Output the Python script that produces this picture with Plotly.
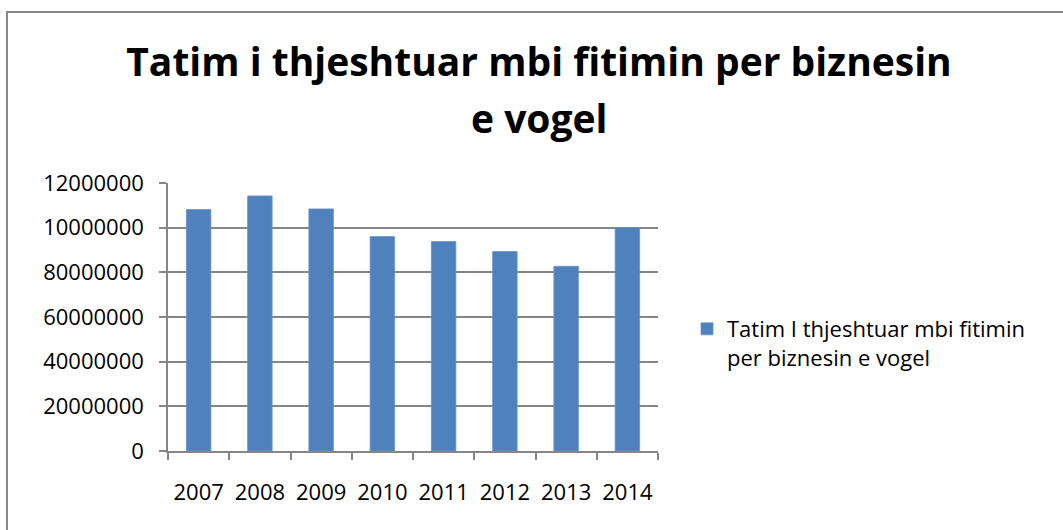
import plotly.graph_objects as go

# ---- data ----
years = ["2007", "2008", "2009", "2010", "2011", "2012", "2013", "2014"]
values = [108100000, 114200000, 108400000, 96000000, 93800000, 89300000, 82700000, 100000000]
y_tick_vals = [0, 20000000, 40000000, 60000000, 80000000, 100000000, 120000000]
y_tick_text = ["0", "20000000", "40000000", "60000000", "80000000", "10000000", "12000000"]
series_name = "Tatim I thjeshtuar mbi fitimin<br>per biznesin e vogel"
title_line1 = "Tatim i thjeshtuar mbi fitimin per biznesin"
title_line2 = "e vogel"

W, H = 1063, 530
ML, MR, MT, MB = 168, 405, 183, 79
PW, PH = W - ML - MR, H - MT - MB


def px_x(px):
    return (px - ML) / PW


def px_y(py):
    return (H - MB - py) / PH


FONT = "Open Sans"
GRID = "#868686"

fig = go.Figure()
fig.add_trace(go.Bar(
    x=years, y=values, name=series_name,
    marker=dict(color="#4F81BD", line=dict(color="#6A93C9", width=0.8)),
    showlegend=True,
))

fig.update_layout(
    width=W, height=H,
    margin=dict(l=ML, r=MR, t=MT, b=MB, pad=0),
    paper_bgcolor="white", plot_bgcolor="white",
    font=dict(family=FONT, size=22, color="black"),
    bargap=0.6,
    title=dict(text="<b>" + title_line1 + "</b>", x=539 / W, xref="container", xanchor="center",
               y=1 - 62 / H, yref="container", yanchor="middle",
               font=dict(family=FONT, size=39, color="black")),
    legend=dict(x=687 / W, xref="container", xanchor="left",
                y=1 - 308 / H, yref="container", yanchor="top",
                valign="top", font=dict(family=FONT, size=22, color="black"),
                bgcolor="rgba(0,0,0,0)", itemwidth=30),
    showlegend=True,
)

fig.update_xaxes(
    type="category", showgrid=False, showline=True, linecolor=GRID, linewidth=1.5,
    ticks="outside", tickson="boundaries", ticklen=7, tickcolor=GRID, tickwidth=1.5,
    ticklabelstandoff=21, range=[-0.5, 7.5],
)
fig.update_yaxes(
    range=[0, 120000000], tickvals=y_tick_vals, ticktext=y_tick_text,
    showgrid=True, gridcolor=GRID, gridwidth=1.5, zeroline=False,
    showline=True, linecolor=GRID, linewidth=1.5,
    ticks="outside", ticklen=7, tickcolor=GRID, tickwidth=1.5,
    ticklabelstandoff=11,
)

fig.add_annotation(text="<b>" + title_line2 + "</b>", x=px_x(539), y=px_y(118),
                   xref="paper", yref="paper", xanchor="center", yanchor="middle",
                   showarrow=False, font=dict(family=FONT, size=39, color="black"))

# outer chart border (cropped on right and bottom in the reference)
fig.add_shape(type="rect", xref="paper", yref="paper",
              x0=px_x(7), x1=px_x(1075), y0=px_y(545), y1=px_y(12),
              line=dict(color="#878787", width=2), fillcolor="rgba(0,0,0,0)", layer="below")

fig.write_html("out.html", include_plotlyjs=True, full_html=True,
               default_width=f"{W}px", default_height=f"{H}px",
               config={"displayModeBar": False},
               post_script="document.body.style.margin='0';")
